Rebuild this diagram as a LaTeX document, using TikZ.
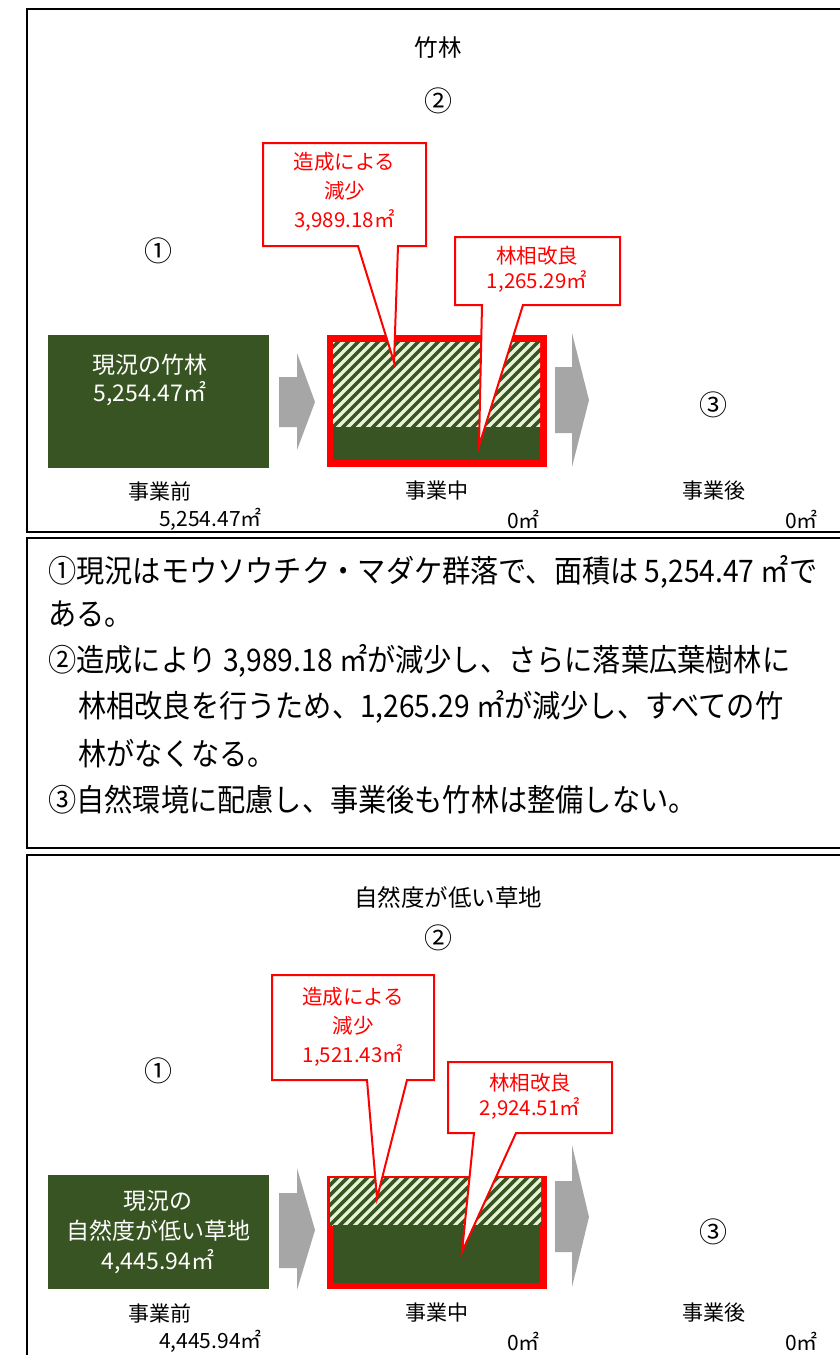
\documentclass[tikz,border=0pt]{standalone}
\usepackage{fontspec}
\setmainfont{Noto Sans CJK JP}
\definecolor{dkgreen}{RGB}{56,84,34}
\definecolor{stripe}{RGB}{232,244,216}
\definecolor{arrowgray}{RGB}{166,166,166}
\tikzset{
 lbl/.style={font=\fontsize{21}{25}\selectfont, inner sep=0},
 ttl/.style={font=\fontsize{23.5}{28}\selectfont, inner sep=0},
 circ/.style={font=\fontsize{28}{30}\selectfont, inner sep=0},
 call/.style={font=\fontsize{20.5}{29}\selectfont, text=red, align=center, inner sep=0},
 calltwo/.style={font=\fontsize{20.5}{25}\selectfont, text=red, align=center, inner sep=0},
 boxtxt/.style={font=\fontsize{23}{28}\selectfont, text=white, align=center, inner sep=0},
 body/.style={font=\fontsize{28.2}{33}\selectfont, anchor=west, inner sep=0},
 panel/.style={draw=black, line width=1.6},
 bubble/.style={draw=red, fill=white, line width=2, line join=miter},
 grayarrow/.style={fill=arrowgray, draw=none},
 stripeline/.style={draw=stripe, line width=3.2},
 greenbox/.style={fill=dkgreen, draw=none},
}
\newcommand{\myhatch}[4]{%
 \begin{scope}
 \clip (#1,#2) rectangle (#3,#4);
 \fill[dkgreen] (#1,#2) rectangle (#3,#4);
 \foreach \k in {-200,-190,...,260} {\draw[stripeline] (#1+\k,#4+5) -- ++(160,-160);}
 \end{scope}}
\begin{document}
\begin{tikzpicture}[x=1pt,y=-1pt]
\useasboundingbox (0,0) rectangle (840,1355);
\clip (0,0) rectangle (840,1355);
\fill[white] (0,0) rectangle (840,1355);

% ---------- panels
\draw[panel] (27,9) rectangle (870,532);
\draw[panel] (27,538) rectangle (870,848);
\draw[panel] (27,855) rectangle (870,1390);

% ================= panel 1
\node[ttl] (t1) at (438,48) {竹林};
\node[circ] (n2a) at (438,101) {②};
\node[circ] (n1a) at (158,251) {①};
\node[circ] (n3a) at (713,405) {③};

\fill[greenbox] (48,335) rectangle (269,468);
\node[boxtxt] (now1) at (150,380) {現況の竹林\\5,254.47㎡};

\fill[grayarrow] (279,377) -- (297,377) -- (297,353) -- (315,402) -- (297,450) -- (297,427) -- (279,427) -- cycle;
\fill[grayarrow] (555,367) -- (572,367) -- (572,333) -- (589,400) -- (572,467) -- (572,433) -- (555,433) -- cycle;

\fill[red] (327,335) rectangle (547,467);
\myhatch{333}{342}{540}{427}
\fill[greenbox] (333,427) rectangle (540,460);

\draw[bubble] (263,143) -- (426,143) -- (426,246) -- (398,246) -- (394,362) -- (358,246) -- (263,246) -- cycle;
\node[call] (cb1) at (344.5,192) {造成による\\減少\\3,989.18㎡};
\draw[bubble] (455,237) -- (620,237) -- (620,305) -- (523,305) -- (479,446) -- (482,305) -- (455,305) -- cycle;
\node[calltwo] (cb2) at (537,269) {林相改良\\1,265.29㎡};

\node[lbl] (bef1) at (160,491) {事業前};
\node[lbl] (dur1) at (437,491) {事業中};
\node[lbl] (aft1) at (714,491) {事業後};
\node[lbl, anchor=east] (v1a) at (262,519) {5,254.47㎡};
\node[lbl, anchor=east] (v1b) at (540,519) {0㎡};
\node[lbl, anchor=east] (v1c) at (818,519) {0㎡};

% ================= panel 2
\node[body] (l1) at (48,572) {\scalebox{1}[1.1]{①現況はモウソウチク・マダケ群落で、面積は 5,254.47 ㎡で}};
\node[body] (l2) at (48,614) {\scalebox{1}[1.1]{ある。}};
\node[body] (l3) at (48,661) {\scalebox{1}[1.1]{②造成により 3,989.18 ㎡が減少し、さらに落葉広葉樹林に}};
\node[body] (l4) at (78,707) {\scalebox{1}[1.1]{林相改良を行うため、1,265.29 ㎡が減少し、すべての竹}};
\node[body] (l5) at (78,754) {\scalebox{1}[1.1]{林がなくなる。}};
\node[body] (l6) at (48,800) {\scalebox{1}[1.1]{③自然環境に配慮し、事業後も竹林は整備しない。}};

% ================= panel 3
\node[ttl] (t3) at (448,897) {自然度が低い草地};
\node[circ] (n2b) at (438,938) {②};
\node[circ] (n1b) at (158,1071) {①};
\node[circ] (n3b) at (713,1232) {③};

\fill[greenbox] (48,1175) rectangle (269,1289);
\node[boxtxt, font=\fontsize{23}{30}\selectfont] (now3) at (158,1232) {現況の\\自然度が低い草地\\4,445.94㎡};

\fill[grayarrow] (279,1193) -- (297,1193) -- (297,1168) -- (315,1230) -- (297,1290) -- (297,1268) -- (279,1268) -- cycle;
\fill[grayarrow] (555,1181) -- (572,1181) -- (572,1145) -- (589,1217) -- (572,1287) -- (572,1252) -- (555,1252) -- cycle;

\fill[red] (327,1176) rectangle (547,1289);
\myhatch{330}{1178}{541}{1225}
\fill[greenbox] (333,1225) rectangle (540,1283);

\draw[bubble] (272,975) -- (434,975) -- (434,1080) -- (407,1080) -- (377,1198) -- (367,1080) -- (272,1080) -- cycle;
\node[call] (cb3) at (353,1027) {造成による\\減少\\1,521.43㎡};
\draw[bubble] (448,1062) -- (612,1062) -- (612,1133) -- (516,1133) -- (462,1252) -- (474,1133) -- (448,1133) -- cycle;
\node[calltwo] (cb4) at (530,1096) {林相改良\\2,924.51㎡};

\node[lbl] (bef3) at (160,1313) {事業前};
\node[lbl] (dur3) at (437,1313) {事業中};
\node[lbl] (aft3) at (714,1313) {事業後};
\node[lbl, anchor=east] (v3a) at (262,1341) {4,445.94㎡};
\node[lbl, anchor=east] (v3b) at (540,1341) {0㎡};
\node[lbl, anchor=east] (v3c) at (818,1341) {0㎡};
\end{tikzpicture}
\end{document}
